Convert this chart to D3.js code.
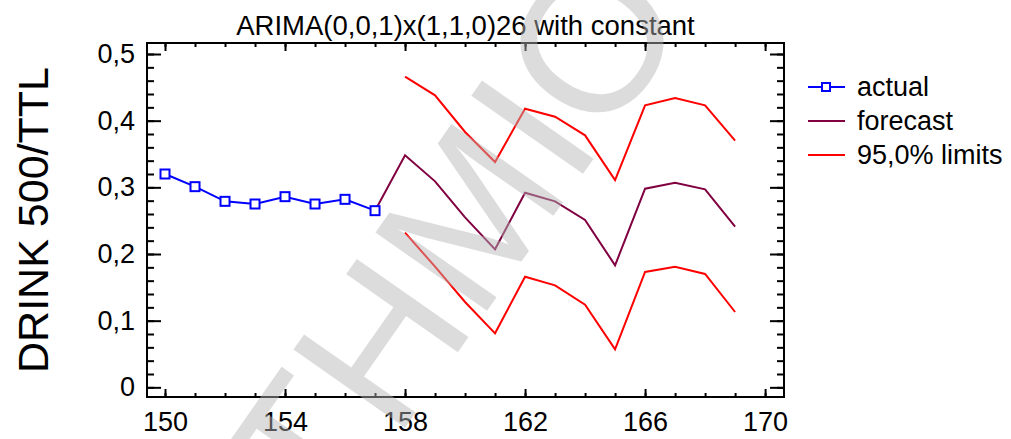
<!DOCTYPE html>
<html>
<head>
<meta charset="utf-8">
<script src="https://cdn.jsdelivr.net/npm/d3@7"></script>
<style>
  html, body { margin: 0; padding: 0; background: #fff; }
  svg { display: block; font-family: "Liberation Sans", Arial, sans-serif; }
</style>
</head>
<body>
<svg id="chart" width="1011" height="439"></svg>
<script>
// ---- data ----
const titleText = "ARIMA(0,0,1)x(1,1,0)26 with constant";
const yTitle = "DRINK 500/TTL";
const actualPeriods = [150, 151, 152, 153, 154, 155, 156, 157];
const actualValues  = [0.320, 0.301, 0.279, 0.275, 0.286, 0.275, 0.282, 0.265];
const forecastPeriods = [157, 158, 159, 160, 161, 162, 163, 164, 165, 166, 167, 168, 169];
const forecastValues  = [0.265, 0.348, 0.309, 0.255, 0.207, 0.292, 0.279, 0.251, 0.183, 0.298, 0.307, 0.297, 0.241];
const limitPeriods = [158, 159, 160, 161, 162, 163, 164, 165, 166, 167, 168, 169];
const upperValues  = [0.466, 0.438, 0.383, 0.338, 0.418, 0.406, 0.378, 0.311, 0.423, 0.434, 0.423, 0.370];
const lowerValues  = [0.232, 0.181, 0.128, 0.081, 0.166, 0.153, 0.124, 0.057, 0.173, 0.181, 0.170, 0.113];
const xMajorTicks = [150, 154, 158, 162, 166, 170];
const yMajorTicks = [0, 0.1, 0.2, 0.3, 0.4, 0.5];
const legendLabels = ["actual", "forecast", "95,0% limits"];
const watermarkText = "THMIO";

// ---- layout ----
const svg = d3.select("#chart");
const plotL = 147, plotR = 784, plotT = 43, plotB = 397;
const x = d3.scaleLinear().domain([149.4, 170.63]).range([plotL, plotR]);
const y = d3.scaleLinear().domain([-0.0145, 0.5165]).range([plotB, plotT]);

const xMinor = d3.range(150, 171, 1);
const yMinor = d3.range(0, 26).map(i => +(i * 0.02).toFixed(2));
const fmtY = d => d === 0 ? "0" : d3.format(".1f")(d).replace(".", ",");

const fontSize = 27;

// title
svg.append("text")
  .attr("x", (plotL + plotR) / 2).attr("y", 35)
  .attr("text-anchor", "middle")
  .attr("font-size", 27.5)
  .attr("fill", "#000")
  .text(titleText);

// y title
svg.append("text")
  .attr("transform", "translate(33,220) rotate(-90)")
  .attr("text-anchor", "middle")
  .attr("dy", "0.35em")
  .attr("font-size", 43)
  .attr("fill", "#000")
  .text(yTitle);

// axes
function styleAxis(g) {
  g.select(".domain").remove();
  g.selectAll(".tick line").attr("stroke", "#000").attr("stroke-width", 2);
  g.selectAll(".tick text").attr("font-size", fontSize).attr("fill", "#000")
    .attr("font-family", "Liberation Sans, Arial, sans-serif");
}
// left
svg.append("g").attr("transform", `translate(${plotL},0)`)
  .call(d3.axisLeft(y).tickValues(yMinor).tickSize(-7).tickFormat(""))
  .call(styleAxis);
svg.append("g").attr("transform", `translate(${plotL},0)`)
  .call(d3.axisLeft(y).tickValues(yMajorTicks).tickSize(-14).tickPadding(12).tickFormat(fmtY))
  .call(styleAxis);
// right
svg.append("g").attr("transform", `translate(${plotR},0)`)
  .call(d3.axisRight(y).tickValues(yMinor).tickSize(-7).tickFormat(""))
  .call(styleAxis);
svg.append("g").attr("transform", `translate(${plotR},0)`)
  .call(d3.axisRight(y).tickValues(yMajorTicks).tickSize(-14).tickFormat(""))
  .call(styleAxis);
// bottom
svg.append("g").attr("transform", `translate(0,${plotB})`)
  .call(d3.axisBottom(x).tickValues(xMinor).tickSize(-4).tickFormat(""))
  .call(styleAxis);
svg.append("g").attr("transform", `translate(0,${plotB})`)
  .call(d3.axisBottom(x).tickValues(xMajorTicks).tickSize(-8).tickPadding(15).tickFormat(d3.format("d")))
  .call(styleAxis);
// top
svg.append("g").attr("transform", `translate(0,${plotT})`)
  .call(d3.axisTop(x).tickValues(xMinor).tickSize(-4).tickFormat(""))
  .call(styleAxis);
svg.append("g").attr("transform", `translate(0,${plotT})`)
  .call(d3.axisTop(x).tickValues(xMajorTicks).tickSize(-8).tickFormat(""))
  .call(styleAxis);

// frame
svg.append("rect")
  .attr("x", plotL).attr("y", plotT)
  .attr("width", plotR - plotL).attr("height", plotB - plotT)
  .attr("fill", "none").attr("stroke", "#000").attr("stroke-width", 2);

// series
const line = d3.line().x(d => x(d[0])).y(d => y(d[1]));
const zip = (a, b) => a.map((v, i) => [v, b[i]]);
const plot = svg.append("g");

plot.append("path").datum(zip(limitPeriods, upperValues))
  .attr("d", line).attr("fill", "none").attr("stroke", "#ff0000").attr("stroke-width", 2);
plot.append("path").datum(zip(limitPeriods, lowerValues))
  .attr("d", line).attr("fill", "none").attr("stroke", "#ff0000").attr("stroke-width", 2);
plot.append("path").datum(zip(forecastPeriods, forecastValues))
  .attr("d", line).attr("fill", "none").attr("stroke", "#800040").attr("stroke-width", 2);
plot.append("path").datum(zip(actualPeriods, actualValues))
  .attr("d", line).attr("fill", "none").attr("stroke", "#0000ff").attr("stroke-width", 2);
plot.selectAll("rect.pt").data(zip(actualPeriods, actualValues)).enter()
  .append("rect").attr("class", "pt")
  .attr("x", d => x(d[0]) - 4.5).attr("y", d => y(d[1]) - 4.5)
  .attr("width", 9).attr("height", 9)
  .attr("fill", "#fff").attr("stroke", "#0000ff").attr("stroke-width", 2);

// legend
const legColors = ["#0000ff", "#800040", "#ff0000"];
const leg = svg.append("g");
legendLabels.forEach((lab, i) => {
  const ly = 87 + i * 34;
  leg.append("line").attr("x1", 808).attr("x2", 845).attr("y1", ly).attr("y2", ly)
    .attr("stroke", legColors[i]).attr("stroke-width", 2);
  if (i === 0) {
    leg.append("rect").attr("x", 822).attr("y", ly - 4).attr("width", 8).attr("height", 8)
      .attr("fill", "#fff").attr("stroke", legColors[i]).attr("stroke-width", 2);
  }
  leg.append("text").attr("x", 857).attr("y", ly).attr("dy", "0.35em")
    .attr("font-size", fontSize).attr("fill", "#000").text(lab);
});

// watermark overlay
svg.append("text")
  .attr("transform", "translate(451,238) rotate(-55)")
  .attr("text-anchor", "middle")
  .attr("dy", "0.36em")
  .attr("font-size", 198)
  .attr("fill", "rgb(180,180,180)")
  .attr("fill-opacity", 0.47)
  .attr("stroke", "rgb(180,180,180)")
  .attr("stroke-opacity", 0.47)
  .attr("stroke-width", 0)
  .text(watermarkText);
</script>
</body>
</html>
